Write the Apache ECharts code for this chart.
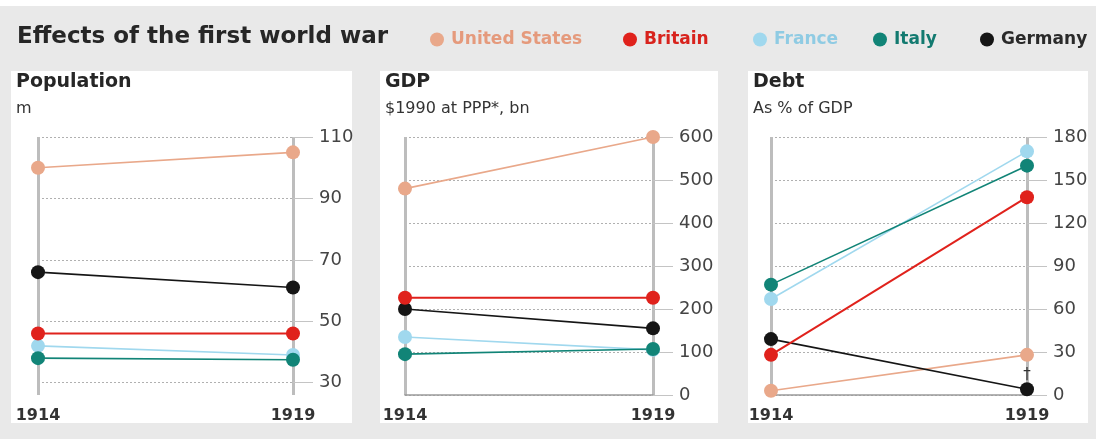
<!DOCTYPE html>
<html>
<head>
<meta charset="utf-8">
<script src="https://cdn.jsdelivr.net/npm/echarts@6/dist/echarts.min.js"></script>
<style>
html,body{margin:0;padding:0;background:#e9e9e9;}
#chart{width:1096px;height:439px;}
</style>
</head>
<body>
<div id="chart"></div>
<script>
// ---- data ----
const years = ['1914', '1919'];
const countries = ['United States', 'Britain', 'France', 'Italy', 'Germany'];
// values per country, same order as countries: [1914, 1919]
const population = [[100, 105], [46, 46], [42, 39], [38, 37.5], [66, 61]];
const gdp = [[480, 600], [226, 226], [135, 105], [95, 107], [200, 155]];
const debt = [[3, 28], [28, 138], [67, 170], [77, 160], [39, 4]];
const populationTicks = [30, 50, 70, 90, 110];
const gdpTicks = [0, 100, 200, 300, 400, 500, 600];
const debtTicks = [0, 30, 60, 90, 120, 150, 180];
const debtNote = { country: 'Germany', year: '1919', text: '†' };

// ---- styles ----
const colors = {
  'United States': '#e9a88a',
  'Britain': '#e0221c',
  'France': '#a0d8ee',
  'Italy': '#118477',
  'Germany': '#151515'
};
const legendText = {
  'United States': '#e59a7c',
  'Britain': '#d8231d',
  'France': '#8fcbe3',
  'Italy': '#137a70',
  'Germany': '#2a2a2a'
};
const drawOrder = ['United States', 'Germany', 'France', 'Italy', 'Britain'];
const FONT = '"DejaVu Sans", "Noto Sans", sans-serif';

const panels = [
  { title: 'Population', sub: 'm', values: population, ticks: populationTicks, min: 26, max: 110,
    grid: { left: 38, right: 803 }, box: [11, 352], zeroLine: false },
  { title: 'GDP', sub: '$1990 at PPP*, bn', values: gdp, ticks: gdpTicks, min: 0, max: 600,
    grid: { left: 405, right: 443 }, box: [380, 718], zeroLine: true },
  { title: 'Debt', sub: 'As % of GDP', values: debt, ticks: debtTicks, min: 0, max: 180,
    grid: { left: 771, right: 69 }, box: [748, 1088], zeroLine: true, note: debtNote }
];

const grids = [], xAxes = [], yAxes = [], series = [], titles = [], graphics = [];

graphics.push({ type: 'rect', shape: { x: 0, y: 0, width: 1096, height: 6 }, style: { fill: '#ffffff' }, silent: true, z: -10 });

titles.push({
  text: 'Effects of the first world war', left: 12, top: 21,
  textStyle: { fontFamily: FONT, fontSize: 23, fontWeight: 'bold', color: '#262626' }
});

panels.forEach((p, i) => {
  graphics.push({
    type: 'rect', shape: { x: p.box[0], y: 71, width: p.box[1] - p.box[0], height: 352 },
    style: { fill: '#ffffff' }, silent: true, z: -10
  });
  titles.push({
    text: p.title, left: p.box[0], top: 68,
    textStyle: { fontFamily: FONT, fontSize: 19, fontWeight: 'bold', color: '#262626' }
  });
  titles.push({
    text: p.sub, left: p.box[0], top: 96,
    textStyle: { fontFamily: FONT, fontSize: 16, fontWeight: 'normal', color: '#333' }
  });
  grids.push({ left: p.grid.left, right: p.grid.right, top: 137, bottom: 44 });
  xAxes.push({
    type: 'category', gridIndex: i, data: years, boundaryGap: false,
    axisLine: { show: p.zeroLine, onZero: false, lineStyle: { color: '#9a9a9a', width: 1.5 } },
    axisTick: { show: false },
    axisLabel: { fontFamily: FONT, fontSize: 16, fontWeight: 'bold', color: '#333', margin: 13 },
    splitLine: { show: true, lineStyle: { color: '#bdbdbd', width: 3 } }
  });
  yAxes.push({
    type: 'value', gridIndex: i, position: 'right', min: p.min, max: p.max,
    axisLine: { show: false },
    axisTick: { show: true, length: 20, lineStyle: { color: '#c4c4c4', width: 1 }, customValues: p.ticks },
    axisLabel: { fontFamily: FONT, fontSize: 18, color: '#444', margin: 26, customValues: p.ticks },
    splitLine: { show: true, lineStyle: { color: '#b0b0b0', type: [2, 2], width: 1 } }
  });
  drawOrder.forEach(name => {
    const idx = countries.indexOf(name);
    const vals = p.values[idx];
    const data = vals.map((v, k) => {
      const item = { value: v };
      if (p.note && p.note.country === name && years[k] === p.note.year) {
        item.label = { show: true, formatter: p.note.text, position: 'top', distance: 0,
          fontFamily: FONT, fontSize: 15, color: '#333' };
      }
      return item;
    });
    series.push({
      name: name, type: 'line', xAxisIndex: i, yAxisIndex: i, data: data,
      symbol: 'circle', symbolSize: 14, showSymbol: true,
      itemStyle: { color: colors[name] },
      lineStyle: { color: colors[name], width: name === 'Britain' ? 2 : 1.6 },
      emphasis: { disabled: true }, animation: false, silent: true
    });
  });
});

const legendLeft = { 'United States': 425, 'Britain': 618, 'France': 748, 'Italy': 868, 'Germany': 975 };
const legends = countries.map(name => ({
  data: [{ name: name, textStyle: { color: legendText[name] } }],
  left: legendLeft[name], top: 26, icon: 'circle', itemWidth: 14, itemHeight: 14,
  selectedMode: false,
  textStyle: { fontFamily: FONT, fontSize: 17, fontWeight: 'bold', padding: [0, 0, 0, 2] }
}));

const chart = echarts.init(document.getElementById('chart'), null, { renderer: 'canvas' });
chart.setOption({
  backgroundColor: '#e9e9e9',
  animation: false,
  title: titles,
  legend: legends,
  grid: grids,
  xAxis: xAxes,
  yAxis: yAxes,
  series: series,
  graphic: graphics
});
</script>
</body>
</html>
